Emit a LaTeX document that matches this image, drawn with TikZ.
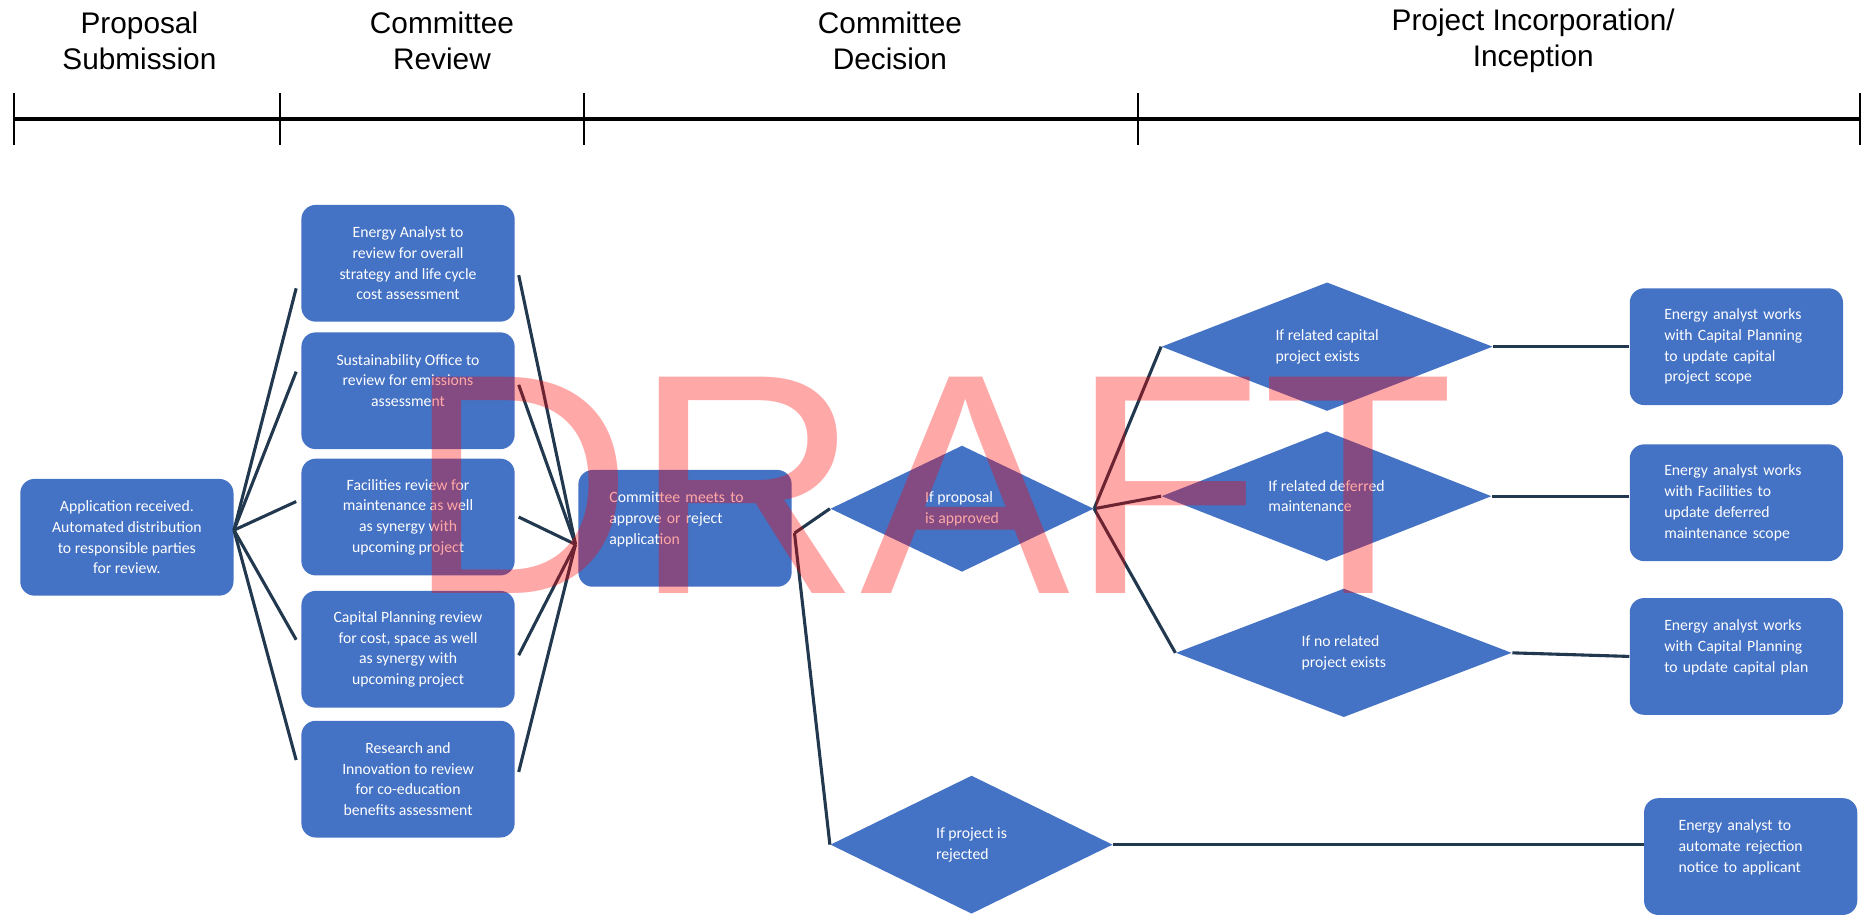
\documentclass[tikz,border=0pt]{standalone}
\usepackage{fontspec}
\setmainfont{Liberation Sans}
\newfontfamily\cardfont{Carlito}
\usetikzlibrary{calc,shapes.geometric}
\usepackage{xcolor}

\definecolor{cardblue}{RGB}{68,114,196}
\definecolor{linknavy}{RGB}{33,56,78}

\tikzset{
    phase/.style={font=\fontsize{12.5}{15}\selectfont, align=center, inner sep=0pt},
    card/.style={fill=cardblue, rounded corners=6pt, text=white, inner sep=0pt,
        font=\cardfont\fontsize{6.6}{8.7}\selectfont, align=center,
        minimum width=89.5pt, minimum height=49pt},
    cardl/.style={card, align=left, inner xsep=14.5pt, text width=60.5pt},
    choice/.style={diamond, aspect=2.6, fill=cardblue, text=white, inner sep=0pt,
        font=\cardfont\fontsize{6.6}{8.7}\selectfont, align=left},
    link/.style={draw=linknavy, line width=1.3pt},
}

\begin{document}
\begin{tikzpicture}[x=0.5pt, y=-0.5pt]
    \useasboundingbox (0,0) rectangle (1568,770);

    % Phase headings
    \foreach \x/\name/\txt in {%
        117/hSub/{Proposal\\Submission},%
        371/hRev/{Committee\\Review},%
        747/hDec/{Committee\\Decision},%
        1287/hInc/{Project Incorporation/\\Inception}%
    } {
        \node[phase] (\name) at (\x,34) {\txt};
    }

    % Timeline with ticks
    \draw[line width=1.6pt] (12,100) -- (1561,100);
    \foreach \x in {12,235,490,955,1561}
        \draw[line width=0.7pt] (\x,78) -- (\x,122);

    % Submission and review boxes
    \node[card] (app) at (106.5,451) {Application received.\\Automated distribution\\to responsible parties\\for review.};
    \node[card] (ea) at (342.5,221) {Energy Analyst to\\review for overall\\strategy and life cycle\\cost assessment};
    \node[card] (so) at (342.5,328) {Sustainability Office to\\review for emissions\\assessment\\\mbox{}};
    \node[card] (fac) at (342.5,434) {Facilities review for\\maintenance as well\\as synergy with\\upcoming project};
    \node[card] (cp) at (342.5,545) {Capital Planning review\\for cost, space as well\\as synergy with\\upcoming project};
    \node[card] (ri) at (342.5,654) {Research and\\Innovation to review\\for co-education\\benefits assessment};

    % Committee decision
    \node[card, align=left, inner xsep=13pt, text width=63.5pt] (com) at (575,443.5) {Committee meets to\\approve or reject\\application\\\mbox{}};
    \node[choice, minimum width=110.5pt, minimum height=53pt] (ok) at (807.5,427) {If proposal\\is approved};
    \node[choice, minimum width=118.5pt, minimum height=58pt] (rej) at (815.5,709) {If project is\\rejected};

    % Incorporation branches
    \node[choice, minimum width=139pt, minimum height=54pt] (cap) at (1114,291) {If related capital\\project exists};
    \node[choice, minimum width=138.5pt, minimum height=54.5pt] (def) at (1113.5,416.5) {If related deferred\\maintenance};
    \node[choice, minimum width=141pt, minimum height=54pt] (none) at (1128,548) {If no related\\project exists};

    \node[cardl] (upcap) at (1457.5,291) {Energy analyst works\\with Capital Planning\\to update capital\\project scope};
    \node[cardl] (updef) at (1457.5,422) {Energy analyst works\\with Facilities to\\update deferred\\maintenance scope};
    \node[cardl] (upplan) at (1457.5,551) {Energy analyst works\\with Capital Planning\\to update capital plan\\\mbox{}};
    \node[cardl] (notice) at (1469.5,719) {Energy analyst to\\automate rejection\\notice to applicant\\\mbox{}};

    % Fan out to reviewers and back in to committee
    \coordinate (fanL) at ([yshift=3pt]app.east);
    \coordinate (fanR) at ([shift={(-2,13.5)}]com.west);
    \foreach \b/\dy in {ea/21, so/-16, fac/-13, cp/-8, ri/-16}
        \draw[link] (fanL) -- ([shift={(-4,\dy)}]\b.west);
    \foreach \b/\dy in {ea/10, so/-5, fac/0, cp/5, ri/-6}
        \draw[link] ([shift={(3,\dy)}]\b.east) -- (fanR);

    % Decision links
    \coordinate (comOut) at ([shift={(2,4)}]com.east);
    \draw[link] (comOut) -- (ok.west);
    \draw[link] (comOut) -- (rej.west);
    \foreach \d in {cap, def, none}
        \draw[link] (ok.east) -- (\d.west);
    \draw[link] (cap.east) -- (cap.east -| upcap.west);
    \draw[link] (def.east) -- (def.east -| updef.west);
    \draw[link] (none.east) -- (upplan.west);
    \draw[link] (rej.east) -- (rej.east -| notice.west);

    % Watermark
    \node[font=\fontsize{132}{132}\selectfont, text=red, opacity=0.34, anchor=base, inner sep=0pt] (draft) at (781,498) {DRAFT};
\end{tikzpicture}
\end{document}
